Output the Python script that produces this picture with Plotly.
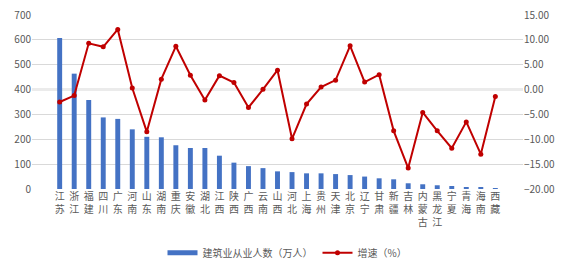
import plotly.graph_objects as go

provinces = ["江苏", "浙江", "福建", "四川", "广东", "河南", "山东", "湖南", "重庆", "安徽",
             "湖北", "江西", "陕西", "广西", "云南", "山西", "河北", "上海", "贵州", "天津",
             "北京", "辽宁", "甘肃", "新疆", "吉林", "内蒙古", "黑龙江", "宁夏", "青海", "海南", "西藏"]
workers = [607, 464, 358, 288, 282, 240, 210, 208, 176, 165,
           165, 134, 106, 92, 84, 71, 68, 63, 63, 60,
           56, 50, 43, 39, 23, 19, 15, 12, 8, 8, 4]
growth = [-2.5, -1.2, 9.3, 8.6, 12.1, 0.3, -8.5, 2.1, 8.7, 2.9,
          -2.1, 2.8, 1.4, -3.6, 0.05, 3.9, -9.9, -2.9, 0.5, 1.9,
          8.8, 1.5, 3.0, -8.3, -15.8, -4.6, -8.3, -11.8, -6.5, -13.0, -1.4]
left_ticks = [0, 100, 200, 300, 400, 500, 600, 700]
right_ticks = [-20, -15, -10, -5, 0, 5, 10, 15]

labels = ["<br>".join(list(p)) for p in provinces]
font_cjk = "Noto Sans CJK SC, Microsoft YaHei, sans-serif"
BLUE = "#4472C4"
RED = "#C00000"
GRAY = "#595959"

fig = go.Figure()
fig.add_trace(go.Bar(x=labels, y=workers, name="建筑业从业人数（万人）",
                     marker=dict(color=BLUE, line=dict(width=0)), yaxis="y",
                     showlegend=False))
# legend entry drawn as a wide flat swatch, like the reference
fig.add_trace(go.Scatter(x=[None], y=[None], name="建筑业从业人数（万人）", mode="lines",
                         line=dict(color=BLUE, width=5), yaxis="y"))
fig.add_trace(go.Scatter(x=labels, y=growth, name="增速（%）", mode="lines+markers",
                         line=dict(color=RED, width=2),
                         marker=dict(color=RED, size=5), yaxis="y2"))

fig.update_layout(
    width=575, height=266,
    margin=dict(l=32, r=52, t=15, b=77),
    paper_bgcolor="white", plot_bgcolor="white",
    bargap=0.66,
    font=dict(family=font_cjk, size=10, color=GRAY),
    xaxis=dict(type="category", tickangle=0, showgrid=False, showline=False, ticks="",
               tickfont=dict(size=10, color=GRAY), automargin=False),
    yaxis=dict(range=[0, 700], tickvals=left_ticks, showgrid=True, gridcolor="#D9D9D9",
               gridwidth=1, zeroline=False, showline=False, ticks="",
               tickfont=dict(size=10, color=GRAY), automargin=False),
    yaxis2=dict(range=[-20, 15], tickvals=right_ticks, tickformat=".2f", overlaying="y",
                side="right", showgrid=False, zeroline=True, zerolinecolor="#EBEBEB",
                zerolinewidth=2.5, showline=False, ticks="",
                tickfont=dict(size=10, color=GRAY), automargin=False),
    legend=dict(orientation="h", x=0.5, xanchor="center", y=0.05, yanchor="middle",
                xref="container", yref="container", itemwidth=30,
                font=dict(size=10, color=GRAY), traceorder="normal"),
    showlegend=True,
)

fig.write_html("out.html")
